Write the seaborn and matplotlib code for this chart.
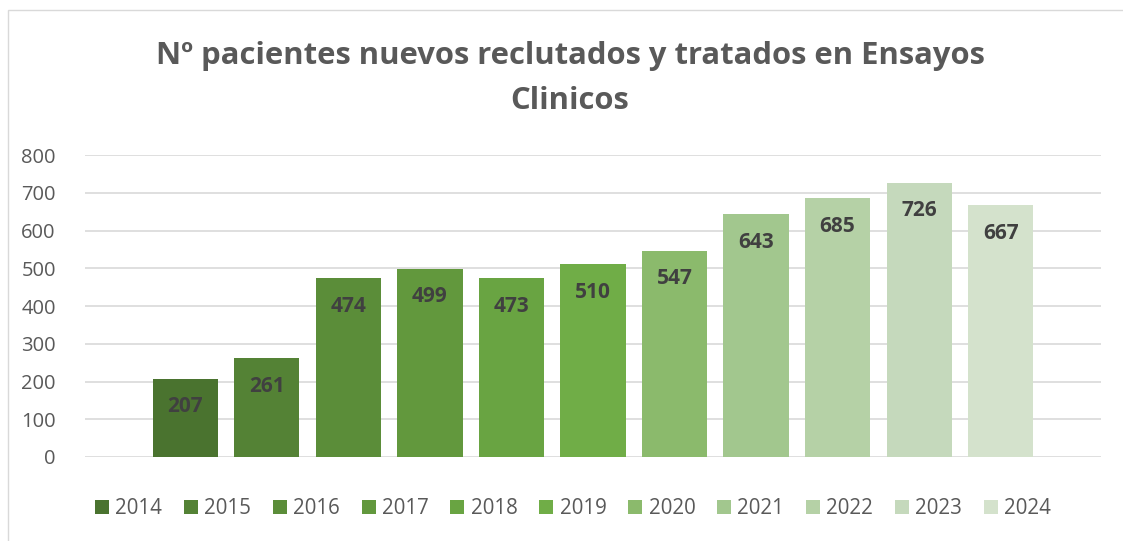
import pandas as pd
import matplotlib.pyplot as plt
import seaborn as sns
from matplotlib.patches import Rectangle
from matplotlib.transforms import offset_copy

# datos
years = ['2014', '2015', '2016', '2017', '2018', '2019', '2020', '2021', '2022', '2023', '2024']
pacientes = [207, 261, 474, 499, 473, 510, 547, 643, 685, 726, 667]
colores = ['#4A732F', '#548235', '#5B8D39', '#62983D', '#69A442', '#70AD47',
           '#8BBA6C', '#A2C78E', '#B5D1A6', '#C5D9BC', '#D4E2CC']

df = pd.DataFrame({'year': years, 'n': pacientes})

sns.set_style('white')
plt.rcParams['font.family'] = ['Open Sans', 'DejaVu Sans']

fig = plt.figure(figsize=(11.23, 5.41), dpi=100)
ax = fig.add_axes([85 / 1123, 84 / 541, (1101 - 85) / 1123, (457 - 155) / 541])

sns.barplot(data=df, x='year', y='n', hue='year', palette=colores,
            width=0.8, saturation=1, linewidth=0, legend=True, ax=ax)

ax.set_xlim(-1.23, 11.23)
ax.set_ylim(0, 800)
ax.set_yticks(range(0, 801, 100))
ax.set_xticks([])
ax.set_xlabel('')
ax.set_ylabel('')
ax.yaxis.grid(True, color='#D9D9D9', linewidth=1.2)
ax.set_axisbelow(True)
sns.despine(ax=ax, left=True, bottom=True)
ax.tick_params(axis='y', length=0, labelsize=14.5, labelcolor='#595959', pad=21)

# etiquetas de datos dentro del extremo
trans = offset_copy(ax.transData, fig=fig, x=0, y=-28, units='dots')
for i, v in enumerate(pacientes):
    ax.text(i, v, str(v), ha='center', va='center', fontsize=15,
            fontweight='bold', color='#404040', transform=trans)

sns.move_legend(ax, 'center', bbox_to_anchor=((573 - 85) / 1016, (457 - 509) / (457 - 155)),
                ncol=11, frameon=False, title=None, fontsize=14.8,
                handlelength=0.68, handleheight=0.68, handletextpad=0.3,
                columnspacing=1.07)
for t in ax.get_legend().get_texts():
    t.set_color('#595959')

fig.text(570 / 1123, 1 - 56 / 541, 'Nº pacientes nuevos reclutados y tratados en Ensayos',
         ha='center', va='center', fontsize=22.3, fontweight='bold', color='#595959')
fig.text(570 / 1123, 1 - 101 / 541, 'Clinicos',
         ha='center', va='center', fontsize=22.3, fontweight='bold', color='#595959')

# borde del gráfico
fig.patches.append(Rectangle((8 / 1123, -0.05), 1.1, 1 - 10 / 541 + 0.05,
                             transform=fig.transFigure, fill=False,
                             edgecolor='#D9D9D9', linewidth=1))

fig.savefig('out.png', dpi=100)
